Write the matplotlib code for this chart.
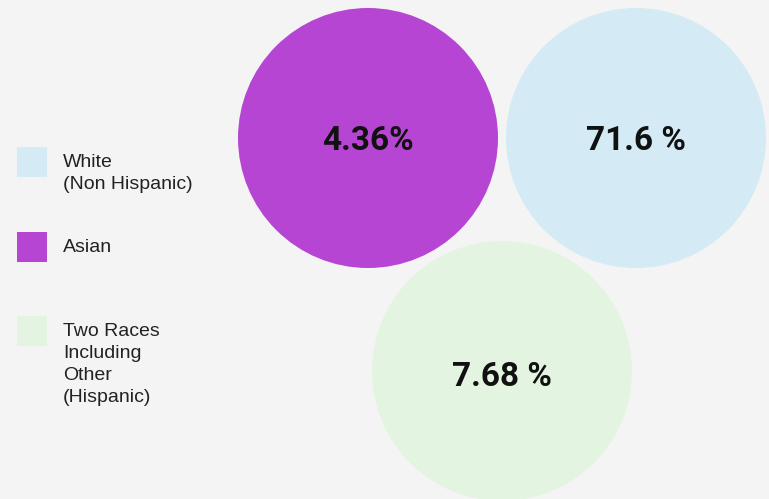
import matplotlib.pyplot as plt
from matplotlib.patches import Circle, Rectangle

# data
groups = ["White\n(Non Hispanic)", "Asian", "Two Races\nIncluding\nOther\n(Hispanic)"]
labels = ["71.6 %", "4.36%", "7.68 %"]
colors = ["#d4eaf5", "#b745d3", "#e3f4e0"]

# layout in pixel coords
centers = [(636, 138), (368, 138), (502, 371)]
label_dy = [3, 3, 6]
radius = 130
legend_y = [162, 247, 331]

fig = plt.figure(figsize=(7.69, 4.99), dpi=100, facecolor="#f4f4f4")
ax = fig.add_axes([0, 0, 1, 1])
ax.set_facecolor("#f4f4f4")
ax.set_xlim(0, 769)
ax.set_ylim(499, 0)
ax.set_aspect("equal")
ax.axis("off")

for (cx, cy), dy, lab, col in zip(centers, label_dy, labels, colors):
    ax.add_patch(Circle((cx, cy), radius, facecolor=col, edgecolor="none"))
    ax.text(cx, cy + dy, lab, ha="center", va="center", fontsize=24,
            fontweight="bold", family="Roboto", color="#111111")

for y, g, col in zip(legend_y, groups, colors):
    ax.add_patch(Rectangle((17, y - 15), 30, 30, facecolor=col, edgecolor="none"))
    ax.text(63, y - 8, g, ha="left", va="top", fontsize=14,
            family="Liberation Sans", color="#222222", linespacing=1.38)

fig.savefig("out.png", dpi=100, facecolor=fig.get_facecolor())
